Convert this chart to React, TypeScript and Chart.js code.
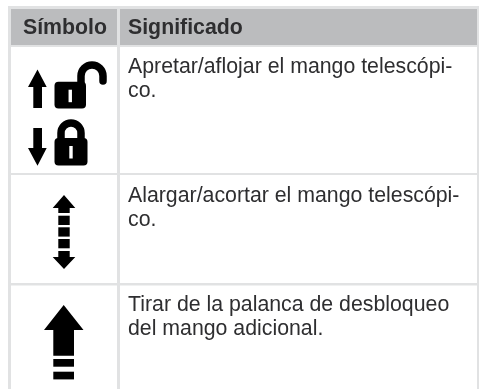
import React, { useEffect, useRef } from "react";
import { Chart, registerables } from "chart.js";

Chart.register(...registerables);

const headers = ["Símbolo", "Significado"];
const rowLines = [
  ["Apretar/aflojar el mango telescópi-", "co."],
  ["Alargar/acortar el mango telescópi-", "co."],
  ["Tirar de la palanca de desbloqueo", "del mango adicional."],
];

const poly = (c: CanvasRenderingContext2D, pts: number[][]) => {
  c.beginPath();
  pts.forEach((p, i) => (i ? c.lineTo(p[0], p[1]) : c.moveTo(p[0], p[1])));
  c.closePath();
  c.fill();
};

const rr = (c: CanvasRenderingContext2D, x: number, y: number, w: number, h: number, r: number) => {
  c.beginPath();
  c.roundRect(x, y, w, h, r);
  c.fill();
};

const drawLock = (c: CanvasRenderingContext2D, x: number, y: number, w: number, h: number) => {
  c.fillStyle = "#000";
  rr(c, x, y, w, h, 4);
  c.fillStyle = "#fff";
  c.fillRect(x + w / 2 - 1.7, y + 8, 3.4, 12.5);
  c.fillStyle = "#000";
};

const tablePlugin = {
  id: "table",
  afterDraw(chart: Chart) {
    const c = chart.ctx;
    c.save();
    c.fillStyle = "#fff";
    c.fillRect(0, 0, 479, 389);
    // grid
    c.fillStyle = "#e1e2e3";
    c.fillRect(8, 6, 471, 383);
    c.fillStyle = "#bbbcbe";
    c.fillRect(11, 9, 106, 36);
    c.fillRect(120, 9, 357, 36);
    c.fillStyle = "#fff";
    [[47, 126], [175, 108], [285.5, 104]].forEach(([y, h]) => {
      c.fillRect(11, y, 106, h);
      c.fillRect(120, y, 357, h);
    });
    // text
    c.textBaseline = "alphabetic";
    c.textAlign = "left";
    c.fillStyle = "#2e2e30";
    c.font = "bold 21.3px 'Liberation Sans'";
    c.fillText(headers[0], 23, 33.5);
    c.fillText(headers[1], 128, 33.5);
    c.font = "21.3px 'Liberation Sans'";
    [73, 202, 310.5].forEach((y, i) => {
      rowLines[i].forEach((t, j) => c.fillText(t, 128, y + j * 24.3));
    });
    // icons
    c.fillStyle = "#000";
    // up arrow + open lock
    poly(c, [[37.5, 69.5], [46.7, 87], [42, 87], [42, 108], [33.3, 108], [33.3, 87], [28, 87]]);
    c.strokeStyle = "#000";
    c.lineWidth = 7.5;
    c.lineCap = "round";
    c.beginPath();
    c.moveTo(81, 84);
    c.lineTo(81, 76);
    c.arc(92, 76, 11, Math.PI, 0);
    c.lineTo(103, 81);
    c.stroke();
    drawLock(c, 54.5, 81.7, 31.5, 26.8);
    // down arrow + closed lock
    poly(c, [[33.3, 128], [42, 128], [42, 148], [46.7, 148], [37.5, 165.7], [28, 148], [33.3, 148]]);
    c.lineCap = "butt";
    c.beginPath();
    c.moveTo(61, 140);
    c.lineTo(61, 133);
    c.arc(71, 133, 10, Math.PI, 0);
    c.lineTo(81, 140);
    c.stroke();
    drawLock(c, 54.5, 138, 33, 27.5);
    // double arrow
    poly(c, [[64, 195], [75.3, 208], [69.7, 208], [69.7, 213], [58.3, 213], [58.3, 208], [52.7, 208]]);
    [215.7, 227.3, 239].forEach((y) => c.fillRect(58.3, y, 11.4, 9.3));
    poly(c, [[58.3, 251], [69.7, 251], [69.7, 257], [75.3, 257], [64, 269], [52.7, 257], [58.3, 257]]);
    // large arrow
    poly(c, [[63.7, 305], [83.5, 330], [74, 330], [74, 355.7], [53.3, 355.7], [53.3, 330], [44, 330]]);
    c.fillRect(53.3, 359, 20.7, 7.7);
    c.fillRect(53.3, 371.7, 20.7, 7.7);
    c.restore();
  },
};

export default function App() {
  const ref = useRef<HTMLCanvasElement>(null);
  useEffect(() => {
    document.body.style.margin = "0";
    const chart = new Chart(ref.current!, {
      type: "scatter",
      data: { datasets: [] },
      options: {
        animation: false,
        responsive: false,
        plugins: { legend: { display: false }, tooltip: { enabled: false } },
        scales: { x: { display: false }, y: { display: false } },
      },
      plugins: [tablePlugin as any],
    });
    return () => chart.destroy();
  }, []);
  return <canvas ref={ref} width={479} height={389} style={{ display: "block", width: 479, height: 389 }} />;
}
